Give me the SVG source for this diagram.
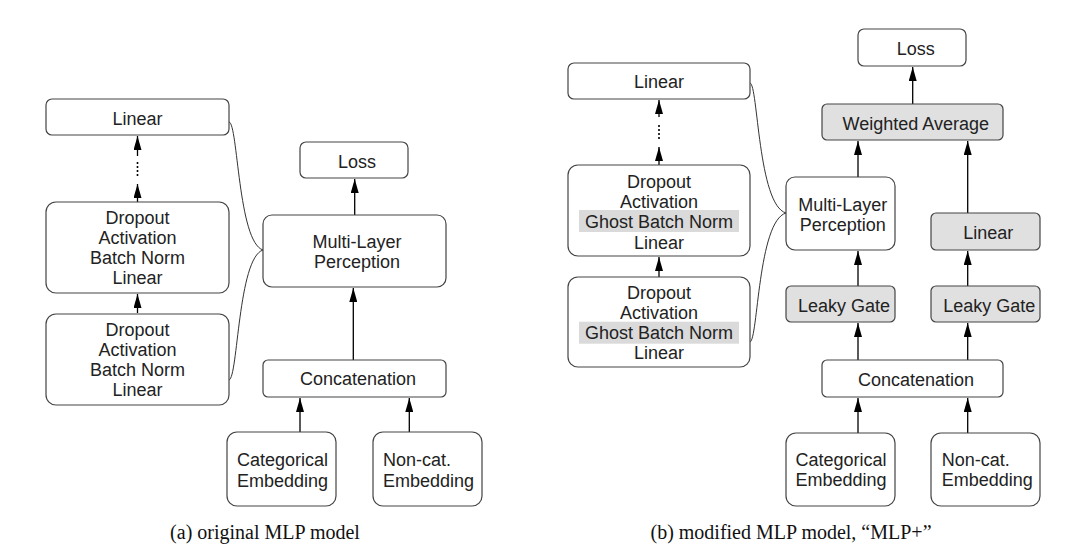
<svg xmlns="http://www.w3.org/2000/svg" width="1067" height="553" viewBox="0 0 1067 553">
<style>
.box{fill:#fff;stroke:#444;stroke-width:1.2}
.gray{fill:#e0e0e0;stroke:#444;stroke-width:1.2}
.hl{fill:#dadada;stroke:none}
.t{font-family:"Liberation Sans",Arial,sans-serif;font-size:18px;fill:#222;text-anchor:middle}
.ts{font-family:"Liberation Sans",Arial,sans-serif;font-size:18px;fill:#222;text-anchor:start}
.cap{font-family:"Liberation Serif","Times New Roman",serif;font-size:20px;fill:#111;text-anchor:middle}
.a{stroke:#000;stroke-width:1.3;fill:none;marker-end:url(#ah)}
.d{stroke:#000;stroke-width:1.6;fill:none;stroke-dasharray:2,2}
.c{stroke:#333;stroke-width:1;fill:none}
</style>
<defs>
<marker id="ah" viewBox="0 0 14 8" refX="14" refY="4" markerWidth="14" markerHeight="8" markerUnits="userSpaceOnUse" orient="auto">
<path d="M0,0 L14,4 L0,8 z" fill="#000"/>
</marker>
</defs>

<g id="connectors">
<path class="a" d="M137.5,313 V294"/>
<path class="a" d="M137.5,202 V184"/>
<path class="d" d="M137.5,162 V178"/>
<path class="a" d="M137.5,156 V136"/>
<path class="c" d="M229,122 C238,123 238,242 263,250"/>
<path class="c" d="M229,380 C238,378 238,258 263,250"/>
<path class="a" d="M354.7,215 V179"/>
<path class="a" d="M353.3,360 V288"/>
<path class="a" d="M300,432 V398"/>
<path class="a" d="M409.3,432 V398"/>
<path class="a" d="M659,277 V257"/>
<path class="a" d="M659,165 V147"/>
<path class="d" d="M659,125 V141"/>
<path class="a" d="M659,117 V100"/>
<path class="c" d="M750,83 C758,84 758,205 786,213"/>
<path class="c" d="M750,342 C758,340 758,221 786,213"/>
<path class="a" d="M912.7,104 V67"/>
<path class="a" d="M858,177 V141"/>
<path class="a" d="M967.7,213 V141"/>
<path class="a" d="M858,286 V251"/>
<path class="a" d="M967.7,286 V251"/>
<path class="a" d="M858,360 V323"/>
<path class="a" d="M967.7,360 V323"/>
<path class="a" d="M858,433 V398"/>
<path class="a" d="M967.7,433 V398"/>
</g>

<g id="a_linear">
<rect class="box" x="46" y="99" width="183" height="36" rx="6"/>
<text class="t" x="137.5" y="124.5">Linear</text>
</g>
<g id="a_block2">
<rect class="box" x="46" y="202" width="183" height="91" rx="10"/>
<text class="t" x="137.5" y="224.2">Dropout</text>
<text class="t" x="137.5" y="244.2">Activation</text>
<text class="t" x="137.5" y="264.2">Batch Norm</text>
<text class="t" x="137.5" y="284.2">Linear</text>
</g>
<g id="a_block1">
<rect class="box" x="46" y="314" width="183" height="91" rx="10"/>
<text class="t" x="137.5" y="335.5">Dropout</text>
<text class="t" x="137.5" y="355.5">Activation</text>
<text class="t" x="137.5" y="375.5">Batch Norm</text>
<text class="t" x="137.5" y="395.5">Linear</text>
</g>
<g id="a_loss">
<rect class="box" x="300" y="142" width="108" height="36" rx="6"/>
<text class="t" x="357" y="167.5">Loss</text>
</g>
<g id="a_mlp">
<rect class="box" x="263" y="215" width="183" height="72" rx="9"/>
<text class="t" x="357" y="247.5">Multi-Layer</text>
<text class="t" x="357" y="268">Perception</text>
</g>
<g id="a_concat">
<rect class="box" x="263" y="360" width="183" height="37" rx="5"/>
<text class="t" x="358" y="384.8">Concatenation</text>
</g>
<g id="a_cat">
<rect class="box" x="227" y="432" width="109" height="74" rx="10"/>
<text class="t" x="282.5" y="465.8">Categorical</text>
<text class="t" x="282.5" y="486.5">Embedding</text>
</g>
<g id="a_noncat">
<rect class="box" x="373" y="432" width="109" height="74" rx="10"/>
<text class="ts" x="383" y="465.8">Non-cat.</text>
<text class="ts" x="383" y="486.5">Embedding</text>
</g>

<g id="b_linear">
<rect class="box" x="568" y="63" width="182" height="36" rx="6"/>
<text class="t" x="659" y="88.2">Linear</text>
</g>
<g id="b_block2">
<rect class="box" x="568" y="165" width="182" height="91" rx="10"/>
<rect class="hl" x="579" y="210" width="160" height="22"/>
<text class="t" x="659" y="188.2">Dropout</text>
<text class="t" x="659" y="208.2">Activation</text>
<text class="t" x="659" y="228.2">Ghost Batch Norm</text>
<text class="t" x="659" y="248.8">Linear</text>
</g>
<g id="b_block1">
<rect class="box" x="568" y="277" width="182" height="90" rx="10"/>
<rect class="hl" x="579" y="321.7" width="160" height="22"/>
<text class="t" x="659" y="298.8">Dropout</text>
<text class="t" x="659" y="318.8">Activation</text>
<text class="t" x="659" y="338.8">Ghost Batch Norm</text>
<text class="t" x="659" y="359.2">Linear</text>
</g>
<g id="b_loss">
<rect class="box" x="858" y="29" width="108" height="37" rx="6"/>
<text class="t" x="915.7" y="54.8">Loss</text>
</g>
<g id="b_wavg">
<rect class="gray" x="822" y="104" width="181" height="36" rx="5"/>
<text class="t" x="915.7" y="129.8">Weighted Average</text>
</g>
<g id="b_mlp">
<rect class="box" x="786" y="177" width="109" height="73" rx="9"/>
<text class="t" x="842.7" y="210.5">Multi-Layer</text>
<text class="t" x="842.7" y="230.5">Perception</text>
</g>
<g id="b_linear2">
<rect class="gray" x="931" y="213" width="109" height="37" rx="5"/>
<text class="t" x="988.3" y="238.8">Linear</text>
</g>
<g id="b_leaky1">
<rect class="gray" x="786" y="286" width="109" height="36" rx="5"/>
<text class="t" x="844" y="311.5">Leaky Gate</text>
</g>
<g id="b_leaky2">
<rect class="gray" x="931" y="286" width="109" height="36" rx="5"/>
<text class="t" x="989.3" y="311.5">Leaky Gate</text>
</g>
<g id="b_concat">
<rect class="box" x="822" y="360" width="181" height="37" rx="5"/>
<text class="t" x="916" y="385.8">Concatenation</text>
</g>
<g id="b_cat">
<rect class="box" x="786" y="433" width="109" height="73" rx="10"/>
<text class="t" x="841" y="465.8">Categorical</text>
<text class="t" x="841" y="485.8">Embedding</text>
</g>
<g id="b_noncat">
<rect class="box" x="931" y="433" width="109" height="73" rx="10"/>
<text class="ts" x="941.7" y="465.8">Non-cat.</text>
<text class="ts" x="941.7" y="485.8">Embedding</text>
</g>

<g id="captions">
<text class="cap" x="265" y="539">(a) original MLP model</text>
<text class="cap" x="791" y="539">(b) modified MLP model, “MLP+”</text>
</g>
</svg>
